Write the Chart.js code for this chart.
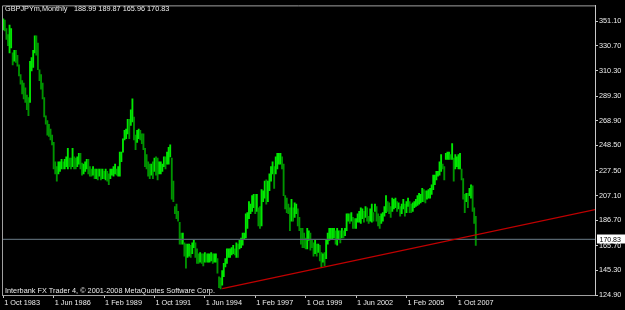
<!DOCTYPE html>
<html>
<head>
<meta charset="utf-8">
<script src="https://cdn.jsdelivr.net/npm/chart.js@4.4.0/dist/chart.umd.min.js"></script>
<style>
  html, body { margin: 0; padding: 0; background: #000; }
</style>
</head>
<body>
<canvas id="grafico" width="625" height="310"></canvas>
<script>
const symbolName = "GBPJPYm,Monthly";
const footerText = "Interbank FX Trader 4, © 2001-2008 MetaQuotes Software Corp.";

// monthly bars, month 0 = Oct 1983 ... month 300 = Oct 2008
const highs = [
  353, 352, 345, 340, 348, 345, 325, 327, 327, 323, 315, 307, 302, 300, 296, 290, 288, 318, 321, 327,
  339, 339, 333, 311, 307, 300, 288, 273, 269, 266, 262, 257, 251, 235, 231, 235, 235, 237, 235, 237,
  239, 246, 238, 238, 246, 239, 238, 239, 242, 242, 234, 233, 235, 237, 237, 231, 229, 231, 229, 229,
  229, 229, 229, 229, 227, 229, 227, 225, 229, 229, 231, 233, 229, 231, 243, 243, 254, 261, 262, 270,
  270, 278, 287, 272, 257, 261, 262, 261, 258, 258, 246, 241, 235, 233, 233, 235, 238, 239, 238, 235,
  235, 233, 239, 239, 243, 247, 249, 238, 219, 198, 200, 194, 185, 176, 176, 168, 167, 167, 167, 166,
  168, 170, 168, 163, 159, 160, 159, 159, 160, 159, 159, 159, 160, 159, 159, 159, 155, 140, 139, 145,
  151, 155, 163, 163, 163, 164, 166, 163, 168, 167, 170, 172, 176, 176, 192, 193, 202, 200, 207, 208,
  208, 208, 197, 198, 212, 211, 219, 220, 219, 225, 231, 235, 231, 239, 242, 242, 242, 239, 233, 207,
  205, 200, 197, 204, 197, 201, 200, 196, 189, 180, 180, 176, 172, 180, 178, 176, 170, 168, 171, 167,
  167, 166, 160, 159, 160, 171, 176, 180, 180, 180, 180, 178, 180, 178, 178, 180, 178, 180, 192, 192,
  192, 193, 189, 188, 188, 192, 194, 197, 196, 194, 198, 197, 190, 196, 200, 193, 200, 198, 192, 190,
  192, 193, 198, 207, 202, 201, 198, 205, 204, 205, 202, 201, 198, 200, 204, 200, 202, 205, 202, 200,
  201, 202, 204, 207, 209, 208, 213, 212, 211, 211, 212, 213, 216, 224, 224, 227, 227, 235, 241, 233,
  231, 242, 243, 243, 241, 250, 238, 241, 239, 241, 242, 229, 221, 208, 209, 209, 213, 216, 215, 197,
  189.87
];
const lows = [
  344, 343, 336, 331, 325, 329, 315, 318, 317, 314, 306, 299, 291, 287, 284, 278, 273, 284, 310, 313,
  325, 323, 311, 302, 295, 287, 272, 266, 257, 256, 253, 249, 229, 225, 219, 225, 227, 229, 229, 229,
  231, 229, 231, 229, 231, 229, 229, 231, 233, 229, 224, 225, 227, 229, 225, 223, 223, 224, 221, 221,
  220, 223, 220, 221, 221, 220, 219, 216, 221, 224, 223, 225, 224, 223, 223, 235, 243, 253, 254, 258,
  254, 265, 268, 253, 245, 251, 254, 253, 250, 245, 231, 229, 223, 221, 224, 221, 227, 224, 220, 225,
  225, 227, 231, 229, 233, 233, 239, 204, 202, 192, 188, 186, 167, 167, 167, 157, 147, 156, 157, 156,
  159, 164, 156, 151, 151, 152, 151, 149, 152, 152, 152, 152, 153, 151, 152, 152, 143, 131, 130, 133,
  140, 148, 151, 156, 156, 158, 159, 158, 156, 156, 163, 164, 166, 171, 172, 180, 188, 192, 194, 197,
  192, 194, 182, 180, 182, 202, 205, 200, 202, 211, 219, 225, 213, 225, 229, 233, 233, 229, 207, 196,
  193, 192, 178, 186, 186, 189, 192, 182, 178, 167, 164, 164, 163, 163, 170, 162, 164, 157, 159, 157,
  160, 153, 148, 152, 149, 155, 167, 170, 171, 171, 172, 167, 166, 171, 168, 172, 172, 174, 178, 186,
  184, 186, 180, 180, 180, 185, 185, 184, 188, 185, 189, 186, 184, 186, 185, 186, 194, 186, 182, 180,
  184, 186, 190, 193, 194, 192, 189, 194, 196, 197, 194, 196, 190, 192, 196, 190, 193, 198, 193, 193,
  194, 197, 198, 199, 200, 201, 202, 202, 201, 204, 205, 205, 208, 212, 216, 220, 223, 224, 227, 229,
  220, 237, 237, 237, 237, 237, 219, 229, 231, 229, 229, 220, 204, 193, 202, 197, 207, 205, 194, 184,
  165.96
];
const lastBar = [188.99, 189.87, 165.96, 170.83]; // open high low close

// trend line: [month, price]
const trendStart = [139, 130.2];
const trendEnd = [376, 195.5];

const yTicks = [351.10, 330.70, 310.30, 289.30, 268.90, 248.50, 227.50, 207.10, 186.70, 165.70, 145.30, 124.90];
const xTickMonths = [0, 32, 64, 96, 128, 160, 192, 224, 256, 288];
const xTickLabels = ["1 Oct 1983", "1 Jun 1986", "1 Feb 1989", "1 Oct 1991", "1 Jun 1994",
  "1 Feb 1997", "1 Oct 1999", "1 Jun 2002", "1 Feb 2005", "1 Oct 2007"];

const fontFamily = "'Liberation Sans', Arial, sans-serif";

const barData = highs.map(function (h, i) {
  return { x: i, y: [lows[i], h] };
});
const barColors = highs.map(function (h, i) {
  if (i === 0) return "#00e800";
  const mid = (h + lows[i]) / 2;
  const prevMid = (highs[i - 1] + lows[i - 1]) / 2;
  return mid < prevMid ? "#009400" : "#00e800";
});

const xMin = -0.8;
const xMax = 375.7;

const extras = {
  id: "extras",
  afterDraw: function (chart) {
    const ctx = chart.ctx;
    const area = chart.chartArea;
    const yScale = chart.scales.y;
    ctx.save();
    // frame left + top
    ctx.strokeStyle = "#a0a0a0";
    ctx.lineWidth = 1;
    ctx.beginPath();
    ctx.moveTo(area.left + 0.5, area.bottom);
    ctx.lineTo(area.left + 0.5, area.top + 0.5);
    ctx.lineTo(area.right, area.top + 0.5);
    ctx.stroke();

    ctx.font = "7.3px " + fontFamily;
    ctx.fillStyle = "#ececec";
    ctx.textBaseline = "alphabetic";
    ctx.textAlign = "left";
    ctx.fillText(symbolName, 5, 10.5);
    ctx.fillText(lastBar.map(function (v) { return v.toFixed(2); }).join(" "), 74, 10.5);
    ctx.fillText(footerText, 5, 292.5);

    // price label of the last close
    const py = yScale.getPixelForValue(lastBar[3]);
    ctx.fillStyle = "#ffffff";
    ctx.fillRect(597, Math.round(py) - 4.5, 28, 9);
    ctx.fillStyle = "#000000";
    ctx.font = "7px " + fontFamily;
    ctx.textBaseline = "middle";
    ctx.fillText(lastBar[3].toFixed(2), 599.5, py + 0.5);
    ctx.restore();
  }
};

const grafico = new Chart(document.getElementById("grafico"), {
  type: "bar",
  data: {
    datasets: [
      {
        type: "line",
        data: [{ x: trendStart[0], y: trendStart[1] }, { x: trendEnd[0], y: trendEnd[1] }],
        borderColor: "#c00000",
        borderWidth: 1.2,
        pointRadius: 0,
        order: 0
      },
      {
        type: "line",
        data: [{ x: xMin, y: lastBar[3] }, { x: xMax, y: lastBar[3] }],
        borderColor: "#56646e",
        borderWidth: 1.3,
        pointRadius: 0,
        order: 0
      },
      {
        type: "bar",
        data: barData,
        backgroundColor: barColors,
        borderWidth: 0,
        barThickness: 1.2,
        grouped: false,
        order: 1
      }
    ]
  },
  plugins: [extras],
  options: {
    responsive: false,
    animation: false,
    devicePixelRatio: 1,
    layout: { padding: { left: 2, top: 2, right: 0, bottom: 0 } },
    plugins: {
      legend: { display: false },
      tooltip: { enabled: false }
    },
    scales: {
      x: {
        type: "linear",
        position: "bottom",
        min: xMin,
        max: xMax,
        offset: false,
        afterBuildTicks: function (scale) {
          scale.ticks = xTickMonths.map(function (m) { return { value: m }; });
        },
        afterFit: function (scale) { scale.height = 15; },
        grid: { drawOnChartArea: false, offset: false, color: "#c8c8c8", tickLength: 3 },
        border: { color: "#a0a0a0" },
        ticks: {
          autoSkip: false,
          maxRotation: 0,
          minRotation: 0,
          align: "start",
          labelOffset: 1,
          padding: 1,
          color: "#ececec",
          font: { size: 7.3, family: fontFamily },
          callback: function (value) {
            return xTickLabels[xTickMonths.indexOf(value)];
          }
        }
      },
      y: {
        type: "linear",
        position: "right",
        min: 124.9,
        max: 364.2,
        afterBuildTicks: function (scale) {
          scale.ticks = yTicks.map(function (v) { return { value: v }; });
        },
        afterFit: function (scale) { scale.width = 30; },
        grid: { drawOnChartArea: false, color: "#c8c8c8", tickLength: 3 },
        border: { color: "#c8c8c8" },
        ticks: {
          padding: 1,
          color: "#ececec",
          font: { size: 7.3, family: fontFamily },
          callback: function (value) { return value.toFixed(2); }
        }
      }
    }
  }
});
</script>
</body>
</html>
